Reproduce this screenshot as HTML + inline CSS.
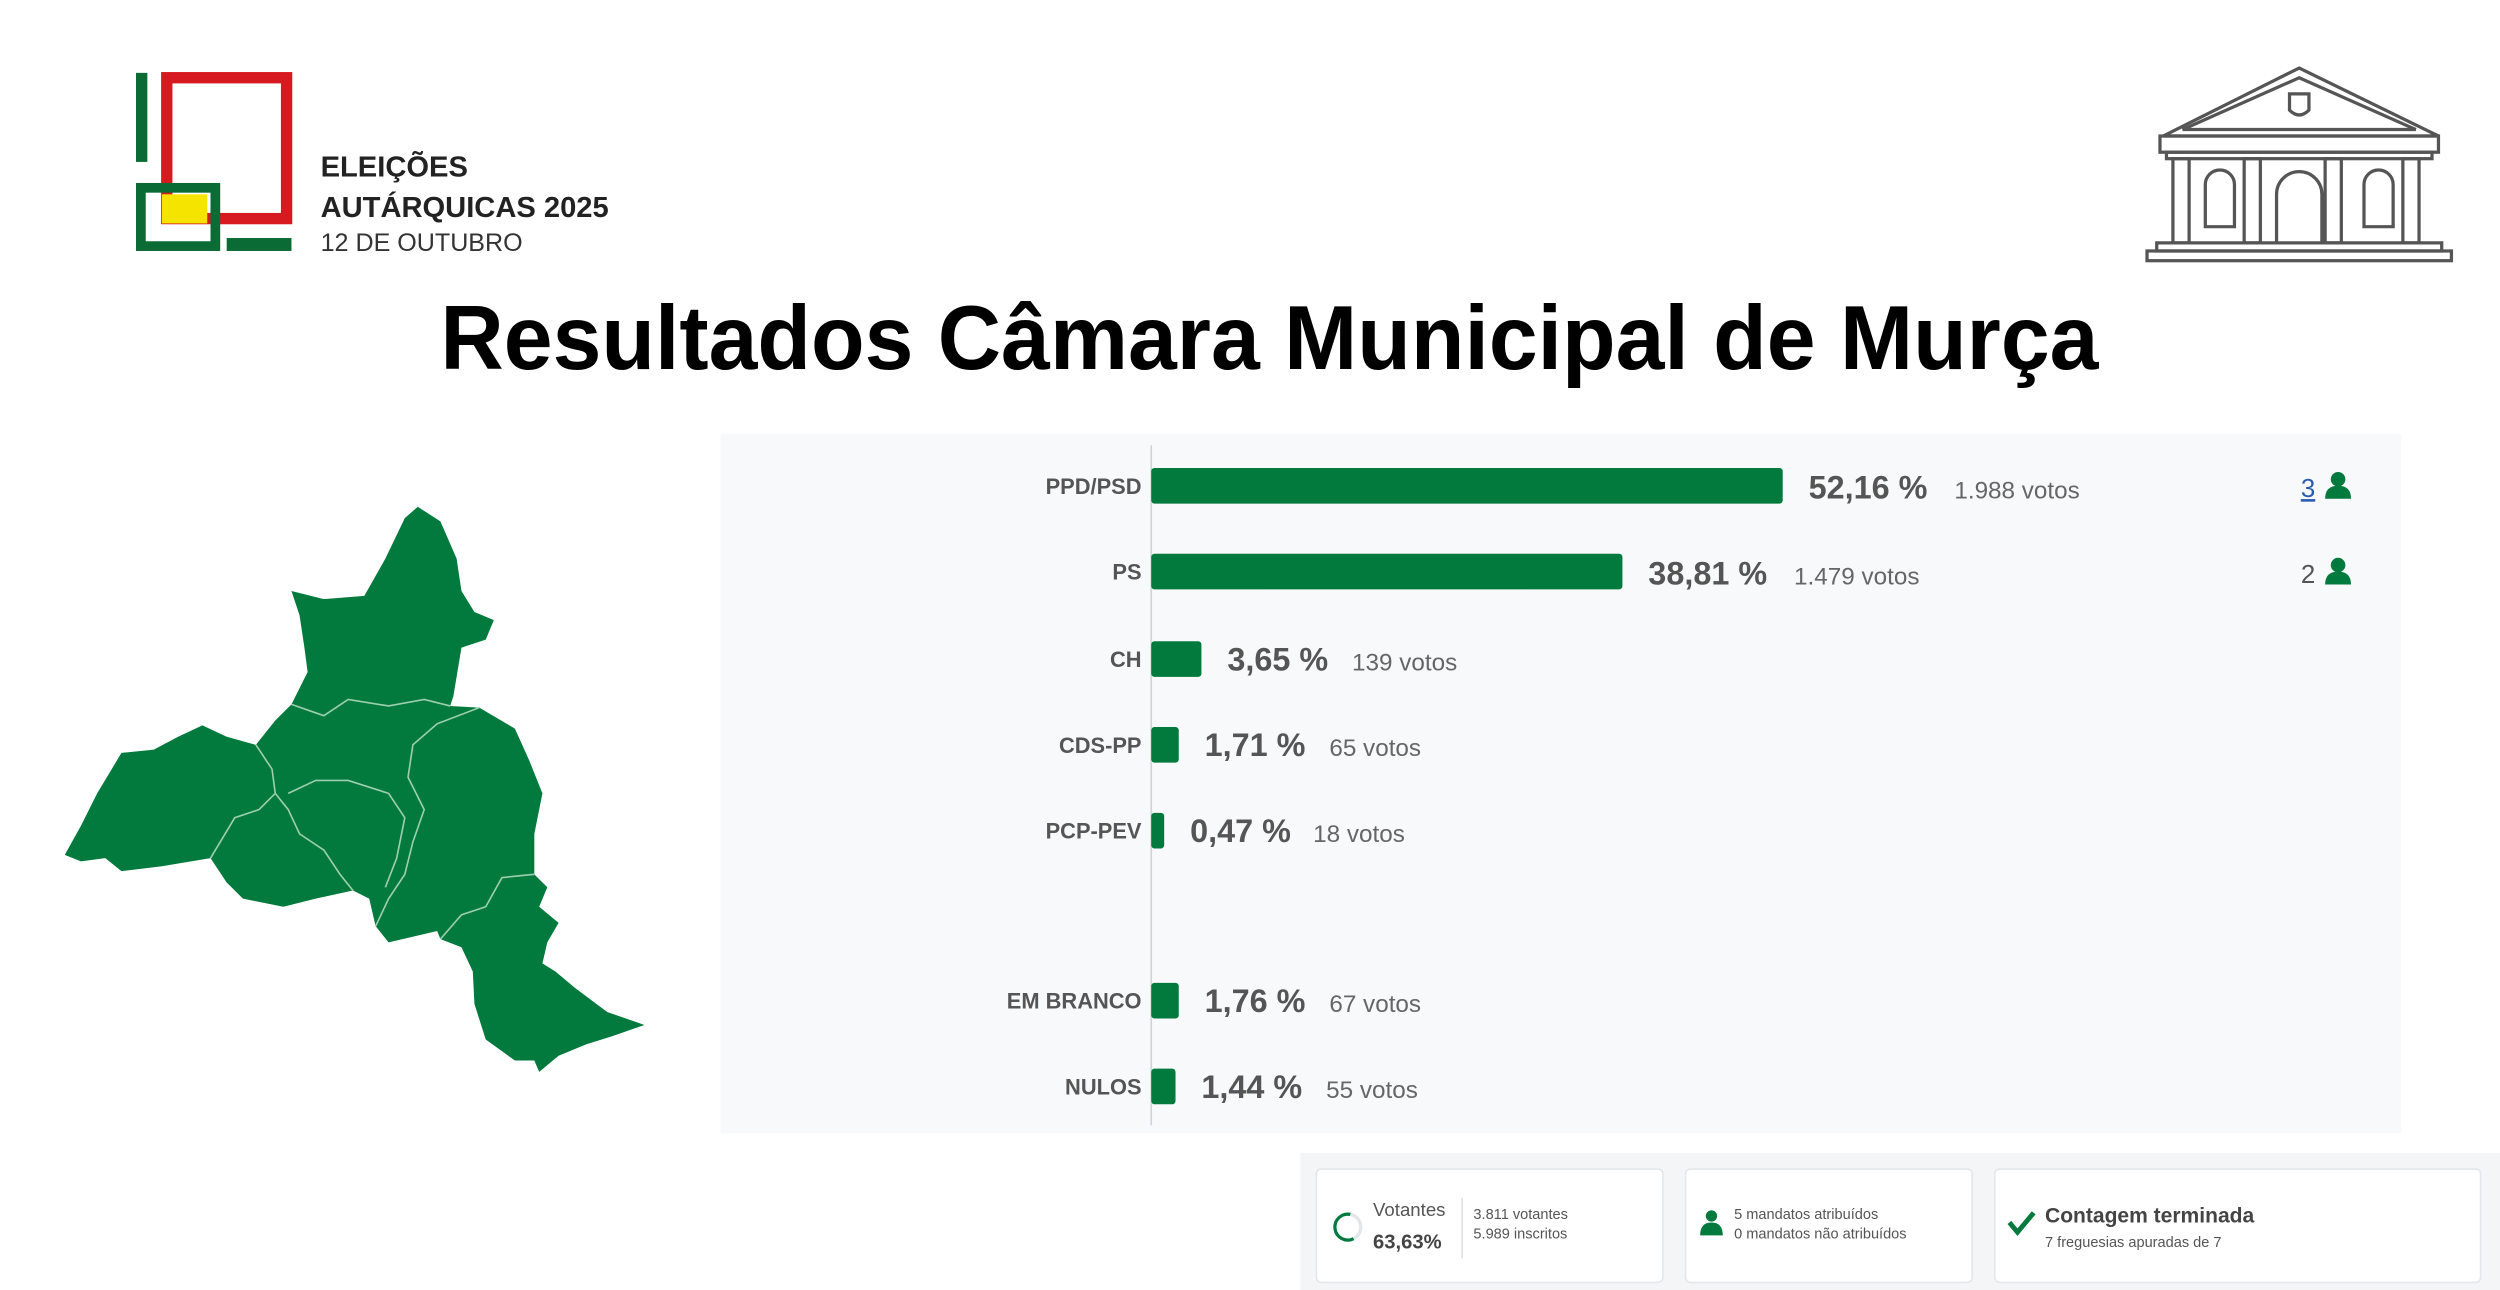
<!DOCTYPE html>
<html><head><meta charset="utf-8"><style>html,body{margin:0;padding:0;background:#fff}svg{display:block}</style></head>
<body>
<svg width="2500" height="1290" viewBox="0 0 1544 796.7" xmlns="http://www.w3.org/2000/svg" font-family="Liberation Sans, Arial, sans-serif">
<rect width="1544" height="797" fill="#fff"/>
<!-- logo -->
<rect x="84" y="45" width="7" height="55" fill="#0a6b35"/>
<rect x="103" y="48" width="74" height="87" fill="none" stroke="#d71920" stroke-width="7"/>
<rect x="100" y="120" width="28" height="18" fill="#f5e400"/>
<rect x="87" y="116" width="46" height="36" fill="none" stroke="#0a6b35" stroke-width="6"/>
<rect x="140" y="147" width="40" height="8" fill="#0a6b35"/>
<text x="198" y="109" font-size="18" font-weight="bold" fill="#222">ELEIÇÕES</text>
<text x="198" y="134" font-size="18" font-weight="bold" fill="#222">AUTÁRQUICAS 2025</text>
<text x="198" y="155" font-size="15.5" fill="#333">12 DE OUTUBRO</text>
<!-- building -->
<g fill="none" stroke="#555" stroke-width="2">
<polygon points="1336,84 1420,42 1506,84"/>
<polygon points="1348,80 1420,48 1492,80"/>
<path d="M1414,58 h12 v10 q-6,6 -12,0 z"/>
<rect x="1334" y="84" width="172" height="10"/>
<rect x="1338" y="94" width="164" height="4"/>
<rect x="1342" y="98" width="10" height="52"/><rect x="1386" y="98" width="10" height="52"/><rect x="1436" y="98" width="10" height="52"/><rect x="1484" y="98" width="10" height="52"/>
<path d="M1362,140 v-26 a9,9 0 0 1 18,0 v26 z"/><path d="M1460,140 v-26 a9,9 0 0 1 18,0 v26 z"/>
<path d="M1406,150 v-30 a14,14 0 0 1 28,0 v30"/>
<rect x="1332" y="150" width="176" height="5"/><rect x="1326" y="155" width="188" height="6"/>
</g>
<!-- title -->
<text x="784" y="228" font-size="56" font-weight="bold" text-anchor="middle" textLength="1024" lengthAdjust="spacingAndGlyphs" fill="#000">Resultados Câmara Municipal de Murça</text>
<!-- map -->
<path fill="#027a3d" d="M258,313 L272,322 L282,345 L285,365 L293,378 L305,383 L300,395 L285,400 L280,430 L278,436 L296,437 L318,450 L327,470 L335,490 L330,515 L330,540 L338,548 L333,560 L345,570 L338,582 L335,595 L343,600 L355,610 L375,625 L398,633 L378,640 L362,645 L345,652 L333,662 L330,655 L318,655 L300,642 L293,620 L292,600 L285,585 L272,580 L270,575 L240,582 L232,572 L228,555 L218,550 L195,555 L175,560 L150,555 L140,545 L130,530 L100,535 L75,538 L65,530 L50,532 L40,528 L50,510 L60,490 L75,465 L95,463 L110,455 L125,448 L140,455 L158,460 L170,445 L180,435 L190,415 L188,400 L185,380 L180,365 L200,370 L225,368 L238,345 L250,320 Z"/>
<g fill="none" stroke="#9ccfb0" stroke-width="1">
<path d="M158,460 L168,475 L170,490 L160,500 L145,505 L130,530"/>
<path d="M180,435 L200,442 L215,432 L240,436 L262,432 L278,436"/>
<path d="M296,437 L270,447 L255,460 L252,480 L262,500 L255,520 L250,540 L240,555 L232,572"/>
<path d="M170,490 L178,500 L185,515 L200,525 L210,540 L218,550"/>
<path d="M178,490 L195,482 L215,482 L240,490 L250,505 L245,530 L238,548"/>
<path d="M330,540 L310,542 L300,560 L285,565 L272,580"/>
</g>
<!-- chart panel -->
<rect x="445" y="268" width="1038" height="432" fill="#f8f9fa"/>
<line x1="711" y1="275" x2="711" y2="695" stroke="#d0d4d8" stroke-width="1"/>
<g font-size="13.5" font-weight="bold" fill="#555" text-anchor="end">
<text x="705" y="305">PPD/PSD</text><text x="705" y="358">PS</text><text x="705" y="412">CH</text><text x="705" y="465">CDS-PP</text><text x="705" y="518">PCP-PEV</text><text x="705" y="623">EM BRANCO</text><text x="705" y="676">NULOS</text>
</g>
<g fill="#027a3d">
<rect x="711" y="289" width="390" height="22" rx="2"/>
<rect x="711" y="342" width="291" height="22" rx="2"/>
<rect x="711" y="396" width="31" height="22" rx="2"/>
<rect x="711" y="449" width="17" height="22" rx="2"/>
<rect x="711" y="502" width="8" height="22" rx="2"/>
<rect x="711" y="607" width="17" height="22" rx="2"/>
<rect x="711" y="660" width="15" height="22" rx="2"/>
</g>
<g fill="#555">
<text x="1117" y="308" font-size="20" font-weight="bold">52,16 %</text><text x="1207" y="308" font-size="15" fill="#666">1.988 votos</text>
<text x="1018" y="361" font-size="20" font-weight="bold">38,81 %</text><text x="1108" y="361" font-size="15" fill="#666">1.479 votos</text>
<text x="758" y="414" font-size="20" font-weight="bold">3,65 %</text><text x="835" y="414" font-size="15" fill="#666">139 votos</text>
<text x="744" y="467" font-size="20" font-weight="bold">1,71 %</text><text x="821" y="467" font-size="15" fill="#666">65 votos</text>
<text x="735" y="520" font-size="20" font-weight="bold">0,47 %</text><text x="811" y="520" font-size="15" fill="#666">18 votos</text>
<text x="744" y="625" font-size="20" font-weight="bold">1,76 %</text><text x="821" y="625" font-size="15" fill="#666">67 votos</text>
<text x="742" y="678" font-size="20" font-weight="bold">1,44 %</text><text x="819" y="678" font-size="15" fill="#666">55 votos</text>
</g>
<text x="1421" y="307" font-size="16" fill="#2a5db0" text-decoration="underline">3</text>
<text x="1421" y="360" font-size="16" fill="#555">2</text>
<g fill="#027a3d">
<circle cx="1444" cy="296" r="4.5"/><path d="M1436,308 q0,-8 8,-8 q8,0 8,8 z"/>
<circle cx="1444" cy="349" r="4.5"/><path d="M1436,361 q0,-8 8,-8 q8,0 8,8 z"/>
</g>
<!-- footer -->
<rect x="803" y="712" width="741" height="85" fill="#f3f5f7"/>
<g fill="#fff" stroke="#e4e7ea" stroke-width="1">
<rect x="813" y="722" width="214" height="70" rx="3"/>
<rect x="1041" y="722" width="177" height="70" rx="3"/>
<rect x="1232" y="722" width="300" height="70" rx="3"/>
</g>
<path d="M834,750 a8,8 0 1 0 2,15" fill="none" stroke="#027a3d" stroke-width="2"/>
<path d="M834,750 a8,8 0 0 1 2,15" fill="none" stroke="#e3e6e9" stroke-width="2"/>
<text x="848" y="751" font-size="11.5" fill="#555">Votantes</text>
<text x="848" y="771" font-size="12.5" font-weight="bold" fill="#444">63,63%</text>
<line x1="903" y1="740" x2="903" y2="777" stroke="#e0e0e0"/>
<text x="910" y="753" font-size="9" fill="#555">3.811 votantes</text>
<text x="910" y="765" font-size="9" fill="#555">5.989 inscritos</text>
<g fill="#027a3d"><circle cx="1057" cy="751" r="3.5"/><path d="M1050,763 q0,-8 7,-8 q7,0 7,8 z"/></g>
<text x="1071" y="753" font-size="9" fill="#555">5 mandatos atribuídos</text>
<text x="1071" y="765" font-size="9" fill="#555">0 mandatos não atribuídos</text>
<path d="M1241,755 l5,6 l10,-12" fill="none" stroke="#027a3d" stroke-width="3"/>
<text x="1263" y="755" font-size="13" font-weight="bold" fill="#444">Contagem terminada</text>
<text x="1263" y="770" font-size="9" fill="#555">7 freguesias apuradas de 7</text>
</svg>
</body></html>
